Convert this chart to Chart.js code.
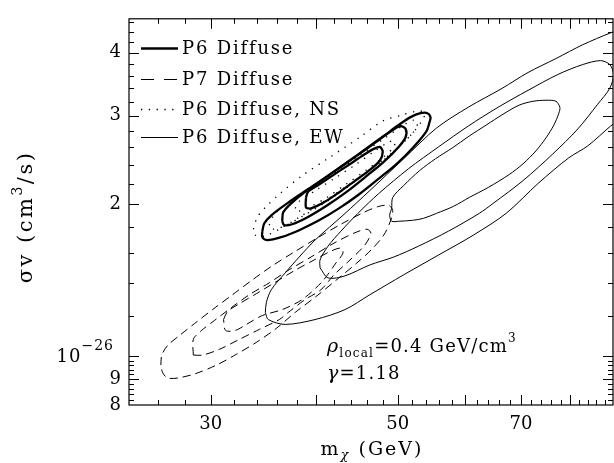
<!DOCTYPE html>
<html>
<head>
<meta charset="utf-8">
<script src="https://cdn.jsdelivr.net/npm/chart.js@4"></script>
<style>
  html, body { margin: 0; padding: 0; background: #fff; }
</style>
</head>
<body>
<canvas id="myChart" width="614" height="463"></canvas>
<script>
// axes: dark matter mass (GeV) and cross-section in units of 1e-26 cm^3/s
const xRange = [24, 90];
const yRange = [0.8, 4.67];
const xTickLabels = [30, 50, 70];
const xMajorTicks = [30, 40, 50, 60, 70, 80];
const xMinorTicks = [26, 28, 32, 34, 36, 38, 42, 44, 46, 48, 52, 54, 56, 58, 62, 64, 66, 68, 72, 74, 76, 78, 82, 84, 86, 88];
const yTickLabels = [0.8, 0.9, 1, 2, 3, 4];
const yMajorTicks = [0.9, 1, 2, 3, 4];
const yMinorTicks = [0.82, 0.84, 0.86, 0.88, 0.92, 0.94, 0.96, 0.98, 1.2, 1.4, 1.6, 1.8, 2.2, 2.4, 2.6, 2.8, 3.2, 3.4, 3.6, 3.8, 4.2, 4.4, 4.6];

const legendLabels = ["P6 Diffuse", "P7 Diffuse", "P6 Diffuse, NS", "P6 Diffuse, EW"];

// contours, [mass, sigma v] pairs
const p6Inner = [[38.92,2.065],[39.14,2.121],[40.33,2.191],[42.01,2.292],[43.76,2.398],[45.58,2.509],[46.83,2.578],[47.60,2.601],[47.99,2.543],[47.60,2.442],[46.20,2.334],[44.36,2.220],[42.58,2.112],[40.88,2.019],[39.46,1.964],[38.92,1.973],[38.92,2.065]];
const p6Middle = [[36.47,1.852],[36.57,1.929],[37.37,2.009],[38.72,2.111],[40.55,2.230],[42.81,2.376],[45.21,2.531],[47.47,2.685],[49.32,2.810],[50.40,2.861],[51.09,2.823],[51.09,2.722],[50.12,2.601],[48.12,2.430],[45.82,2.271],[43.52,2.121],[41.21,1.991],[39.03,1.885],[37.47,1.827],[36.67,1.819],[36.47,1.852]];
const p6Outer = [[34.54,1.770],[34.73,1.835],[35.40,1.903],[36.97,2.010],[39.25,2.151],[42.01,2.323],[44.96,2.520],[48.12,2.734],[50.12,2.874],[51.78,2.980],[53.21,3.034],[54.23,3.034],[54.68,2.980],[54.53,2.914],[54.09,2.797],[52.21,2.601],[49.86,2.408],[47.47,2.250],[44.96,2.093],[42.58,1.964],[40.33,1.860],[38.20,1.778],[36.37,1.722],[35.01,1.699],[34.54,1.722],[34.54,1.770]];

const nsInner = [[37.78,1.964],[38.20,2.028],[39.79,2.122],[42.01,2.250],[44.36,2.386],[46.83,2.543],[48.78,2.661],[49.59,2.673],[49.46,2.601],[48.12,2.486],[45.95,2.344],[43.52,2.200],[41.21,2.065],[39.25,1.973],[37.99,1.938],[37.78,1.964]];
const nsMiddle = [[35.20,1.819],[35.69,1.911],[37.17,2.019],[39.25,2.141],[42.01,2.302],[44.96,2.497],[48.12,2.698],[50.81,2.874],[52.21,2.940],[52.78,2.900],[52.21,2.785],[50.40,2.625],[48.12,2.453],[45.58,2.292],[43.17,2.141],[40.88,2.010],[38.72,1.903],[36.87,1.819],[35.59,1.786],[35.20,1.819]];
const nsOuter = [[33.71,1.786],[34.07,1.886],[34.83,1.973],[36.37,2.112],[38.51,2.281],[41.44,2.475],[44.96,2.710],[47.99,2.927],[50.53,3.007],[52.64,3.062],[53.79,3.048],[53.64,2.967],[52.21,2.785],[49.86,2.578],[46.83,2.376],[43.76,2.190],[40.88,2.028],[38.20,1.886],[36.18,1.786],[34.73,1.730],[33.89,1.738],[33.71,1.786]];

const p7Inner = [[31.07,1.182],[31.41,1.226],[32.45,1.271],[33.98,1.330],[35.69,1.398],[37.68,1.477],[39.79,1.552],[41.67,1.616],[42.81,1.638],[43.05,1.602],[42.24,1.531],[40.66,1.405],[38.51,1.295],[36.47,1.237],[34.54,1.204],[33.07,1.156],[32.10,1.125],[31.24,1.125],[31.07,1.182]];
const p7Middle = [[28.61,1.005],[28.61,1.080],[29.27,1.125],[30.31,1.177],[31.75,1.249],[33.34,1.324],[35.20,1.398],[37.17,1.484],[39.46,1.573],[42.01,1.676],[44.36,1.754],[45.95,1.786],[46.46,1.754],[45.70,1.661],[43.76,1.545],[42.01,1.450],[40.55,1.355],[38.82,1.295],[37.07,1.221],[36.18,1.182],[34.26,1.130],[32.45,1.080],[30.73,1.032],[29.35,1.005],[28.61,1.005]];
const p7Outer = [[26.18,0.960],[26.25,1.005],[26.68,1.051],[27.57,1.100],[28.71,1.161],[30.15,1.237],[31.84,1.324],[33.62,1.417],[35.49,1.511],[37.68,1.609],[40.11,1.715],[42.81,1.827],[45.58,1.929],[47.47,1.982],[48.78,1.991],[49.32,1.946],[49.05,1.860],[48.12,1.738],[46.58,1.630],[44.72,1.531],[42.58,1.430],[40.11,1.318],[37.78,1.221],[35.88,1.135],[33.98,1.065],[32.19,1.009],[30.48,0.960],[28.71,0.922],[27.42,0.905],[26.68,0.905],[26.32,0.926],[26.18,0.960]];

const ewInner = [[49.18,1.964],[49.32,2.065],[50.81,2.180],[53.07,2.334],[55.43,2.464],[58.05,2.590],[60.79,2.734],[63.66,2.874],[66.67,3.021],[69.63,3.147],[72.34,3.204],[74.94,3.219],[77.01,3.204],[77.84,3.118],[77.63,3.034],[76.58,2.874],[74.94,2.710],[72.93,2.555],[70.40,2.408],[67.77,2.292],[64.01,2.161],[60.79,2.065],[58.20,1.982],[55.58,1.920],[53.64,1.877],[52.07,1.860],[50.12,1.852],[49.18,1.852],[48.91,1.903],[49.18,1.964]];
const ewMiddle = [[40.44,1.497],[40.44,1.552],[41.33,1.653],[42.81,1.770],[44.84,1.920],[47.47,2.102],[51.50,2.355],[55.88,2.601],[60.62,2.861],[65.77,3.118],[71.36,3.368],[77.42,3.621],[82.86,3.789],[87.01,3.858],[89.2,3.789],[90.15,3.621],[89.2,3.399],[86.31,3.161],[81.75,2.823],[76.38,2.520],[70.40,2.230],[64.89,2.010],[62.46,1.920],[57.42,1.770],[52.92,1.653],[49.46,1.573],[46.33,1.517],[43.29,1.443],[41.33,1.430],[40.44,1.497]];
const ewOuter = [[34.83,1.221],[34.92,1.277],[35.40,1.355],[36.77,1.463],[38.20,1.573],[39.89,1.699],[43.17,1.911],[46.33,2.131],[50.81,2.464],[55.58,2.835],[60.62,3.118],[66.49,3.399],[71.36,3.654],[77.01,3.894],[82.86,4.148],[89.41,4.380],[96.2,4.583],[102.7,4.542],[104.0,3.965],[99.3,3.307],[89.41,2.861],[84.0,2.613],[79.77,2.475],[73.32,2.200],[67.22,1.920],[61.45,1.738],[55.88,1.587],[50.81,1.450],[46.33,1.324],[43.29,1.237],[39.89,1.182],[36.77,1.156],[35.11,1.182],[34.83,1.221]];

const serif = "'DejaVu Serif', serif";

const thickLine = { borderColor: "#000", borderWidth: 2.3, borderDash: [] };
const dashLine = { borderColor: "#000", borderWidth: 1, borderDash: [8, 5] };
const dotLine = { borderColor: "#000", borderWidth: 1.3, borderDash: [1.3, 6.5] };
const thinLine = { borderColor: "#000", borderWidth: 1, borderDash: [] };

function contour(points, style) {
  return Object.assign({
    data: points.map((p) => ({ x: p[0], y: p[1] })),
    showLine: true,
    pointRadius: 0,
    tension: 0.3,
    fill: false,
  }, style);
}

function drawTicks(ctx, scale, values, len, horizontal, area) {
  values.forEach((v) => {
    let p = Math.round(scale.getPixelForValue(v)) + 0.5;
    ctx.beginPath();
    if (horizontal) {
      ctx.moveTo(p, area.bottom); ctx.lineTo(p, area.bottom - len);
      ctx.moveTo(p, area.top); ctx.lineTo(p, area.top + len);
    } else {
      ctx.moveTo(area.left, p); ctx.lineTo(area.left + len, p);
      ctx.moveTo(area.right, p); ctx.lineTo(area.right - len, p);
    }
    ctx.stroke();
  });
}

const frameAndText = {
  id: "frameAndText",
  afterDraw(chart) {
    const ctx = chart.ctx;
    const a = chart.chartArea;
    const xs = chart.scales.x;
    const ys = chart.scales.y;
    ctx.save();
    ctx.strokeStyle = "#000";
    ctx.fillStyle = "#000";
    ctx.lineWidth = 1.2;
    ctx.strokeRect(a.left, a.top, a.right - a.left, a.bottom - a.top);
    ctx.lineWidth = 1;
    drawTicks(ctx, xs, xMajorTicks, 10, true, a);
    drawTicks(ctx, xs, xMinorTicks, 5, true, a);
    drawTicks(ctx, ys, yMajorTicks, 10, false, a);
    drawTicks(ctx, ys, yMinorTicks, 5, false, a);

    // 10^-26 label at the unit tick
    let y1 = ys.getPixelForValue(1);
    ctx.textAlign = "right";
    ctx.textBaseline = "alphabetic";
    ctx.font = "14px " + serif;
    ctx.letterSpacing = "1px";
    let supW = ctx.measureText("\u221226").width;
    ctx.fillText("\u221226", 114, y1 - 6);
    ctx.font = "18px " + serif;
    ctx.fillText("10", 114 - supW, y1 + 6);

    // legend
    ctx.textAlign = "left";
    ctx.textBaseline = "middle";
    ctx.font = "18px " + serif;
    ctx.letterSpacing = "1.8px";
    const rows = [48, 79, 109, 137];
    const styles = [thickLine, { borderWidth: 1, borderDash: [13, 10] }, { borderWidth: 1.3, borderDash: [1.3, 6.5] }, thinLine];
    rows.forEach((ry, i) => {
      ctx.beginPath();
      ctx.lineWidth = styles[i].borderWidth;
      ctx.setLineDash(styles[i].borderDash);
      ctx.moveTo(141, ry + 0.5);
      ctx.lineTo(178, ry + 0.5);
      ctx.stroke();
      ctx.fillText(legendLabels[i], 182, ry + 1);
    });
    ctx.setLineDash([]);

    // annotation
    ctx.textBaseline = "alphabetic";
    ctx.letterSpacing = "1.2px";
    let x0 = 327;
    ctx.font = "italic 19px " + serif;
    ctx.fillText("\u03C1", x0, 352);
    x0 += ctx.measureText("\u03C1").width;
    ctx.font = "12px " + serif;
    ctx.fillText("local", x0, 357);
    x0 += ctx.measureText("local").width;
    ctx.font = "18px " + serif;
    ctx.fillText("=0.4 GeV/cm", x0, 352);
    x0 += ctx.measureText("=0.4 GeV/cm").width;
    ctx.font = "12px " + serif;
    ctx.fillText("3", x0, 342);
    ctx.font = "italic 19px " + serif;
    ctx.fillText("\u03B3", 327, 379);
    let gw = ctx.measureText("\u03B3").width;
    ctx.font = "18px " + serif;
    ctx.fillText("=1.18", 327 + gw, 379);

    // x axis title
    ctx.letterSpacing = "2px";
    ctx.font = "19px " + serif;
    let mW = ctx.measureText("m").width;
    ctx.font = "italic 13px " + serif;
    let chiW = ctx.measureText("\u03C7").width;
    ctx.font = "19px " + serif;
    let restW = ctx.measureText(" (GeV)").width;
    let tx = 372 - (mW + chiW + restW) / 2;
    ctx.fillText("m", tx, 455);
    ctx.font = "italic 13px " + serif;
    ctx.fillText("\u03C7", tx + mW, 459);
    ctx.font = "19px " + serif;
    ctx.fillText(" (GeV)", tx + mW + chiW, 455);

    // y axis title
    ctx.translate(32, 217);
    ctx.rotate(-Math.PI / 2);
    ctx.font = "21px " + serif;
    ctx.letterSpacing = "2.5px";
    let part1 = "\u03C3v (cm";
    let part2 = "/s)";
    let w1 = ctx.measureText(part1).width;
    ctx.font = "14px " + serif;
    let w3 = ctx.measureText("3").width;
    ctx.font = "21px " + serif;
    let w2 = ctx.measureText(part2).width;
    let sx = -(w1 + w3 + w2) / 2;
    ctx.fillText(part1, sx, 0);
    ctx.font = "14px " + serif;
    ctx.fillText("3", sx + w1, -10);
    ctx.font = "21px " + serif;
    ctx.fillText(part2, sx + w1 + w3, 0);
    ctx.restore();
  },
};

const myChart = new Chart(document.getElementById("myChart"), {
  type: "scatter",
  data: {
    datasets: [
      contour(ewOuter, thinLine),
      contour(ewMiddle, thinLine),
      contour(ewInner, thinLine),
      contour(p7Outer, dashLine),
      contour(p7Middle, dashLine),
      contour(p7Inner, dashLine),
      contour(nsOuter, dotLine),
      contour(nsMiddle, dotLine),
      contour(nsInner, dotLine),
      contour(p6Outer, thickLine),
      contour(p6Middle, thickLine),
      contour(p6Inner, thickLine),
    ],
  },
  options: {
    responsive: false,
    animation: false,
    layout: { padding: { top: 14, right: 1, left: 0, bottom: 0 } },
    plugins: { legend: { display: false }, tooltip: { enabled: false } },
    scales: {
      x: {
        type: "logarithmic",
        position: "bottom",
        min: xRange[0],
        max: xRange[1],
        grid: { display: false, drawTicks: false },
        border: { display: false },
        afterBuildTicks: (s) => { s.ticks = xTickLabels.map((v) => ({ value: v })); },
        afterFit: (s) => { s.height = 58; },
        ticks: {
          color: "#000",
          font: { family: serif, size: 18 },
          padding: 9,
          maxRotation: 0,
          autoSkip: false,
          callback: (v) => String(v),
        },
      },
      y: {
        type: "logarithmic",
        min: yRange[0],
        max: yRange[1],
        grid: { display: false, drawTicks: false },
        border: { display: false },
        afterBuildTicks: (s) => { s.ticks = yTickLabels.map((v) => ({ value: v })); },
        afterFit: (s) => { s.width = 129; },
        ticks: {
          color: "#000",
          font: { family: serif, size: 18 },
          padding: 8,
          autoSkip: false,
          callback: (v) => (v === 1 ? "" : String(Math.round(v < 1 ? v * 10 : v))),
        },
      },
    },
  },
  plugins: [frameAndText],
});
</script>
</body>
</html>
